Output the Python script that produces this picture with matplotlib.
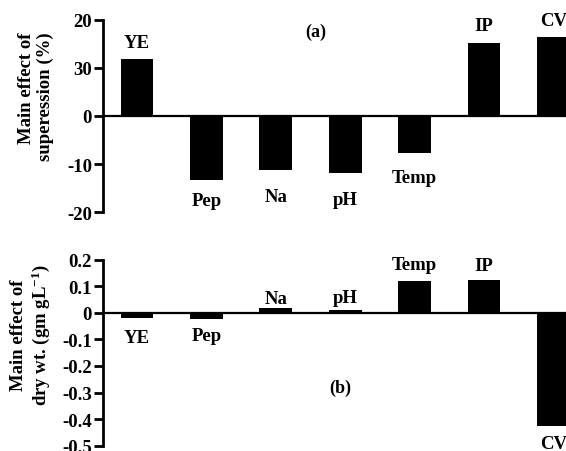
import matplotlib
matplotlib.use('Agg')
import matplotlib.pyplot as plt
import numpy as np

factors = ['YE', 'Pep', 'Na', 'pH', 'Temp', 'IP', 'CV']

# (a) main effect of suppression (%)
supp = [11.9, -13.2, -11.2, -11.9, -7.8, 15.2, 16.4]
supp_label_y = [14.2, -18.5, -17.6, -18.2, -13.7, 17.9, 18.9]
supp_ticks = [20, 10, 0, -10, -20]
supp_ticklabels = ['20', '30', '0', '-10', '-20']

# (b) main effect of dry wt. (gm gL^-1)
drywt = [-0.02, -0.022, 0.02, 0.01, 0.12, 0.125, -0.425]
drywt_label_y = [-0.111, -0.103, 0.038, 0.042, 0.165, 0.163, -0.508]
drywt_ticks = [0.2, 0.1, 0, -0.1, -0.2, -0.3, -0.4, -0.5]
drywt_ticklabels = ['0.2', '0.1', '0', '-0.1', '-0.2', '-0.3', '-0.4', '-0.5']

plt.rcParams['font.family'] = ['Liberation Serif', 'DejaVu Serif']
plt.rcParams['font.weight'] = 'bold'
plt.rcParams['mathtext.fontset'] = 'custom'
plt.rcParams['mathtext.rm'] = 'Liberation Serif:bold'
plt.rcParams['mathtext.it'] = 'Liberation Serif:italic:bold'
plt.rcParams['mathtext.bf'] = 'Liberation Serif:bold'

W, H = 566, 452
fig = plt.figure(figsize=(W / 100, H / 100), dpi=100)

left = 102.5 / W
ax1 = fig.add_axes([left, 1 - 213.3 / H, 1 - left, (213.3 - 20.5) / H])
ax2 = fig.add_axes([left, 1 - 446.7 / H, 1 - left, (446.7 - 260.7) / H])

x = np.arange(len(factors))
xlim = (-(137 - 102.5) / 69.4, (566 - 137) / 69.4)


def style(ax, ticks, labels, ylim):
    ax.set_xlim(*xlim)
    ax.set_ylim(*ylim)
    for s in ['top', 'right', 'bottom']:
        ax.spines[s].set_visible(False)
    ax.spines['left'].set_linewidth(2.0)
    ax.set_xticks([])
    ax.set_yticks(ticks)
    ax.set_yticklabels(labels, fontsize=13.5, fontweight='bold')
    ax.tick_params(axis='y', direction='out', length=6.5, width=2.0, pad=1)
    ax.axhline(0, color='black', lw=1.6, zorder=1)
    ax.patch.set_alpha(0)


ax1.bar(x, supp, width=0.475, color='black', zorder=2)
style(ax1, supp_ticks, supp_ticklabels, (-20, 20))
for i, name in enumerate(factors):
    ax1.text(i, supp_label_y[i], name, ha='center', va='baseline',
             fontsize=13.5, fontweight='bold')
ax1.text(2.57, 17.5, '(a)', ha='center', va='center', fontsize=13, fontweight='bold')

ax2.bar(x, drywt, width=0.475, color='black', zorder=2)
style(ax2, drywt_ticks, drywt_ticklabels, (-0.5, 0.2))
for i, name in enumerate(factors):
    ax2.text(i, drywt_label_y[i], name, ha='center', va='baseline',
             fontsize=13.5, fontweight='bold')
ax2.text(2.93, -0.279, '(b)', ha='center', va='center', fontsize=13, fontweight='bold')

fig.text(36 / W, 1 - 32 / H, 'Main effect of\nsuperession (%)', rotation=90,
         ha='center', va='top', multialignment='right', fontsize=13.5,
         fontweight='bold', linespacing=1.1)
fig.text(31 / W, 1 - 335 / H, 'Main effect of\ndry wt. (gm gL$^{-1}$)', rotation=90,
         ha='center', va='center', multialignment='center', fontsize=13.5,
         fontweight='bold', linespacing=1.1)

fig.savefig('out.png', dpi=100)
